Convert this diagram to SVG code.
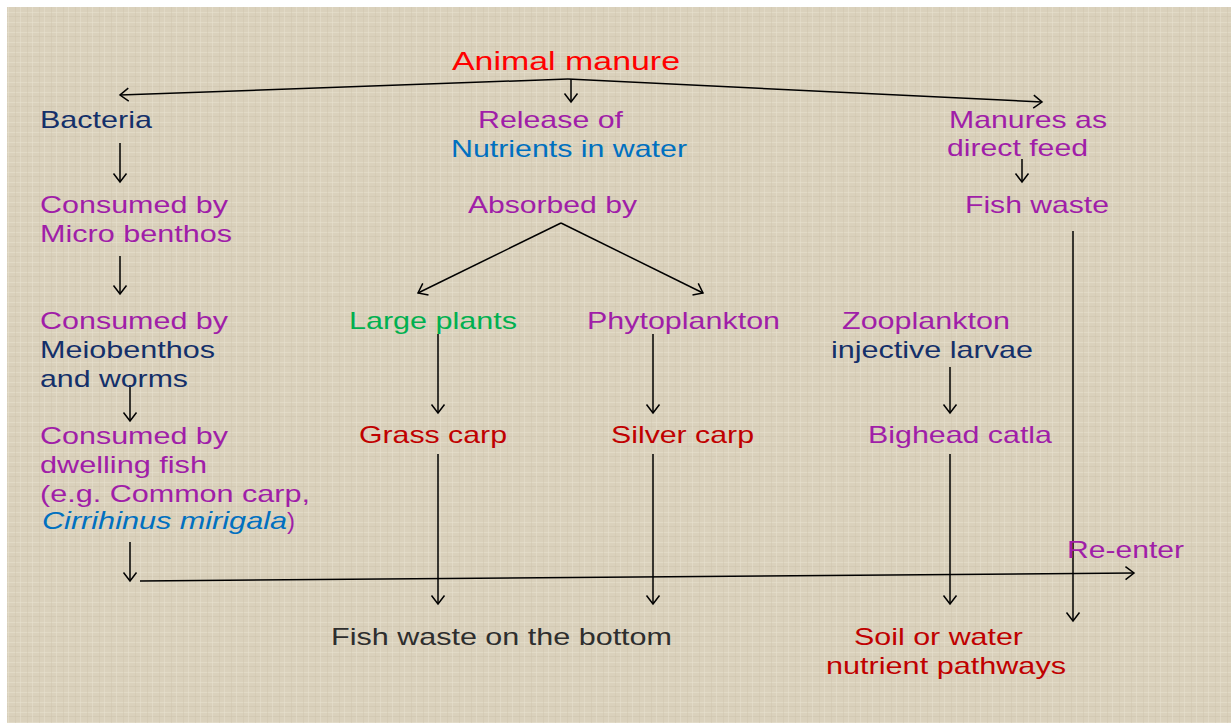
<svg xmlns="http://www.w3.org/2000/svg" width="1231" height="723" viewBox="0 0 1231 723">
<defs>
<pattern id="linen" width="12" height="10" patternUnits="userSpaceOnUse">
<rect width="12" height="10" fill="#dad1bc"/>
<rect x="0" y="2" width="12" height="1" fill="#e6dfcd" opacity="0.6"/>
<rect x="0" y="6" width="12" height="1" fill="#cbc1aa" opacity="0.45"/>
<rect x="3" y="0" width="1" height="10" fill="#ccc2ab" opacity="0.4"/>
<rect x="8" y="0" width="1" height="10" fill="#e8e1d0" opacity="0.5"/>
</pattern>
<marker id="ah" viewBox="-10 -8 12 16" markerWidth="12" markerHeight="16" refX="0" refY="0" orient="auto" markerUnits="userSpaceOnUse">
<path d="M-8.5,-6.5 L0,0 L-8.5,6.5" fill="none" stroke="#000" stroke-width="1.5"/>
</marker>
<style>
text{font-family:"Liberation Sans",Arial,sans-serif;font-size:24px}
.pu{fill:#a01ea8}
.nv{fill:#14306a}
.rd{fill:#c00000}
.bl{fill:#0070c0}
.gr{fill:#00b050}
.c{fill:none;stroke:#000;stroke-width:1.5}
.a{marker-end:url(#ah)}
</style>
</defs>
<rect width="1231" height="723" fill="#ffffff"/>
<rect x="7" y="7" width="1224" height="716" fill="url(#linen)"/>

<g id="connectors">
<polyline class="c a" points="568,79 120,95"/>
<polyline class="c a" points="568,79 1042,102"/>
<line class="c a" x1="571" y1="79" x2="571" y2="102"/>
<line class="c a" x1="120" y1="143" x2="120" y2="182"/>
<line class="c a" x1="120" y1="256" x2="120" y2="294"/>
<line class="c a" x1="130" y1="385" x2="130" y2="421"/>
<line class="c a" x1="130" y1="542" x2="130" y2="581"/>
<line class="c a" x1="140" y1="581" x2="1134" y2="573"/>
<polyline class="c a" points="561,223 418,293"/>
<polyline class="c a" points="561,223 703,293"/>
<line class="c a" x1="438" y1="334" x2="438" y2="413"/>
<line class="c a" x1="653" y1="334" x2="653" y2="413"/>
<line class="c a" x1="438" y1="454" x2="438" y2="604"/>
<line class="c a" x1="653" y1="454" x2="653" y2="604"/>
<line class="c a" x1="950" y1="367" x2="950" y2="413"/>
<line class="c a" x1="950" y1="454" x2="950" y2="604"/>
<line class="c a" x1="1022" y1="159" x2="1022" y2="182"/>
<line class="c a" x1="1073" y1="231" x2="1073" y2="621"/>
</g>

<g id="animal-manure"><text x="452" y="70" fill="#ff0000" style="font-size:26px" textLength="228" lengthAdjust="spacingAndGlyphs">Animal manure</text></g>
<g id="bacteria"><text class="nv" x="40" y="128" textLength="112" lengthAdjust="spacingAndGlyphs">Bacteria</text></g>
<g id="release">
<text class="pu" x="478" y="128" textLength="145" lengthAdjust="spacingAndGlyphs">Release of</text>
<text class="bl" x="451" y="157" textLength="236" lengthAdjust="spacingAndGlyphs">Nutrients in water</text>
</g>
<g id="manures-direct">
<text class="pu" x="949" y="128" textLength="158" lengthAdjust="spacingAndGlyphs">Manures as</text>
<text class="pu" x="947" y="156" textLength="141" lengthAdjust="spacingAndGlyphs">direct feed</text>
</g>
<g id="micro-benthos">
<text class="pu" x="40" y="213" textLength="188" lengthAdjust="spacingAndGlyphs">Consumed by</text>
<text class="pu" x="40" y="242" textLength="192" lengthAdjust="spacingAndGlyphs">Micro benthos</text>
</g>
<g id="absorbed"><text class="pu" x="468" y="213" textLength="169" lengthAdjust="spacingAndGlyphs">Absorbed by</text></g>
<g id="fish-waste"><text class="pu" x="965" y="213" textLength="144" lengthAdjust="spacingAndGlyphs">Fish waste</text></g>
<g id="meiobenthos">
<text class="pu" x="40" y="329" textLength="188" lengthAdjust="spacingAndGlyphs">Consumed by</text>
<text class="nv" x="40" y="358" textLength="175" lengthAdjust="spacingAndGlyphs">Meiobenthos</text>
<text class="nv" x="40" y="387" textLength="148" lengthAdjust="spacingAndGlyphs">and worms</text>
</g>
<g id="large-plants"><text class="gr" x="349" y="329" textLength="168" lengthAdjust="spacingAndGlyphs">Large plants</text></g>
<g id="phytoplankton"><text class="pu" x="587" y="329" textLength="193" lengthAdjust="spacingAndGlyphs">Phytoplankton</text></g>
<g id="zooplankton">
<text class="pu" x="842" y="329" textLength="168" lengthAdjust="spacingAndGlyphs">Zooplankton</text>
<text class="nv" x="831" y="358" textLength="202" lengthAdjust="spacingAndGlyphs">injective larvae</text>
</g>
<g id="dwelling-fish">
<text class="pu" x="40" y="444" textLength="188" lengthAdjust="spacingAndGlyphs">Consumed by</text>
<text class="pu" x="40" y="473" textLength="167" lengthAdjust="spacingAndGlyphs">dwelling fish</text>
<text class="pu" x="40" y="502" textLength="270" lengthAdjust="spacingAndGlyphs">(e.g. Common carp,</text>
<text class="bl" x="42" y="529" font-style="italic" textLength="245" lengthAdjust="spacingAndGlyphs">Cirrihinus mirigala</text>
<text class="pu" x="287" y="529" textLength="8" lengthAdjust="spacingAndGlyphs">)</text>
</g>
<g id="grass-carp"><text class="rd" x="359" y="443" textLength="148" lengthAdjust="spacingAndGlyphs">Grass carp</text></g>
<g id="silver-carp"><text class="rd" x="611" y="443" textLength="143" lengthAdjust="spacingAndGlyphs">Silver carp</text></g>
<g id="bighead-catla"><text class="pu" x="868" y="443" textLength="184" lengthAdjust="spacingAndGlyphs">Bighead catla</text></g>
<g id="re-enter"><text class="pu" x="1067" y="558" textLength="117" lengthAdjust="spacingAndGlyphs">Re-enter</text></g>
<g id="fish-waste-bottom"><text x="331" y="645" fill="#2e2e2e" textLength="341" lengthAdjust="spacingAndGlyphs">Fish waste on the bottom</text></g>
<g id="soil-water">
<text class="rd" x="854" y="645" textLength="169" lengthAdjust="spacingAndGlyphs">Soil or water</text>
<text class="rd" x="826" y="674" textLength="240" lengthAdjust="spacingAndGlyphs">nutrient pathways</text>
</g>
</svg>
